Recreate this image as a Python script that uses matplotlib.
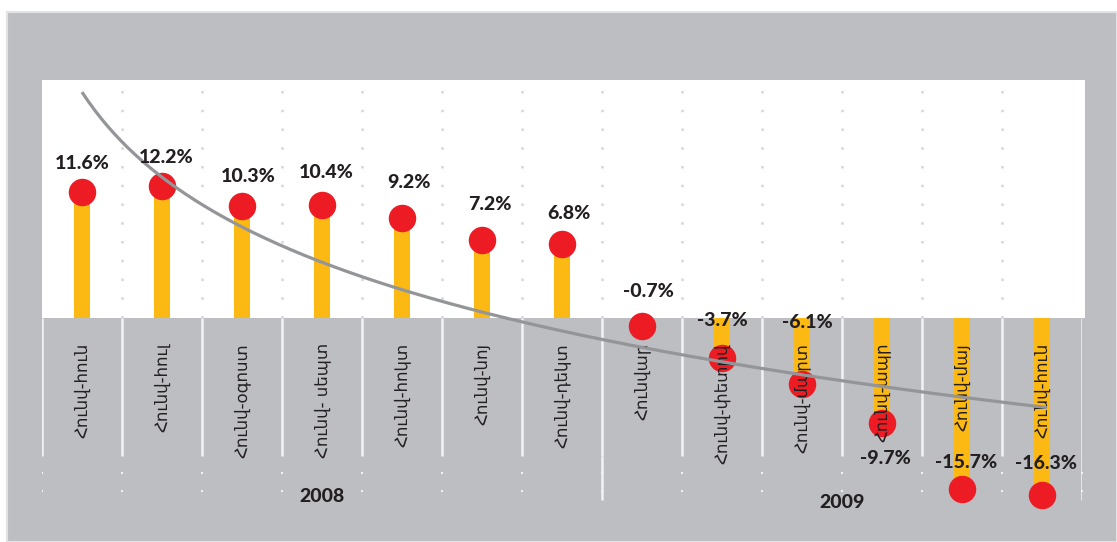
import numpy as np
import matplotlib
matplotlib.use("Agg")
import matplotlib.pyplot as plt
from matplotlib.patches import Rectangle

# ---- data ----
categories = ['Հունվ-հուն', 'Հունվ-հուլ', 'Հունվ-օգոստ', 'Հունվ- սեպտ', 'Հունվ-հոկտ',
              'Հունվ-նոյ', 'Հունվ-դեկտ', 'Հունվար', 'Հունվ-փետրվ', 'Հունվ-մարտ',
              'Հունվ-ապր', 'Հունվ-մայ', 'Հունվ-հուն']
values = [11.6, 12.2, 10.3, 10.4, 9.2, 7.2, 6.8, -0.7, -3.7, -6.1, -9.7, -15.7, -16.3]
years = ['2008', '2009']
year_counts = [7, 6]

# ---- layout / style ----
label_dx = [0, 4, 6, 4, 7, 8, 7, 6, 0, 5, 3, 4, 4]        # pixels
label_dy = [29, 28, 30, 33, 36, 35, 31, 34, 38, 62, -35, 26, 32]  # pixels (up)
GRAY = '#BDBEC2'
ORANGE = '#FDB913'
RED = '#ED1C24'
TREND = '#939598'
TEXT = '#231F20'
NUMFONT = ['Lato', 'DejaVu Sans']

W, H = 1117, 542
fig = plt.figure(figsize=(W / 100, H / 100), dpi=100)
fig.patch.set_facecolor('white')
fig.patches.append(Rectangle((7 / W, 0), 1 - 7 / W, (H - 12) / H,
                             transform=fig.transFigure, facecolor=GRAY,
                             edgecolor='#E2E3E5', lw=1.5, zorder=-10))

ax_left, ax_top, ax_right, ax_bot = 42, 80, 1082, 540
ax = fig.add_axes([ax_left / W, (H - ax_bot) / H, (ax_right - ax_left) / W,
                   (ax_bot - ax_top) / H])
ax.set_zorder(1)
ax.set_facecolor('none')
ppu = 10.86  # pixels per percentage unit
zero_px = 318
ymax = (zero_px - ax_top) / ppu
ymin = (zero_px - ax_bot) / ppu
n = len(values)
x = np.arange(1, n + 1)
ax.set_xlim(0.5, n + 0.5)
ax.set_ylim(ymin, ymax)
ax.axis('off')

def py(px):
    return (zero_px - px) / ppu

# white plot area
ax.axhspan(0, ymax, xmin=0, xmax=1.003, facecolor='white', zorder=0.5, clip_on=False)

bounds = np.arange(0.5, n + 1.0, 1.0)
# dotted lines in the white area
ax.vlines(bounds[1:-1], 0, py(84), colors='#D5D6D8', linewidth=1.8,
          linestyles=(0, (1, 6.5)), zorder=0.8)
# solid white lines in the gray area
ax.vlines(bounds, py(456), 0, colors='#F2F2F2', linewidth=1.8, zorder=0.8)
for yy in (py(473), py(491)):
    ax.scatter(bounds, [yy] * len(bounds), marker='s', s=4, color='#F2F2F2',
               linewidths=0, zorder=0.8)
sep_idx = [year_counts[0], n]
ax.vlines(bounds[sep_idx], py(456), py(500), colors='#F2F2F2', linewidth=1.8, zorder=0.8)

# bars and dots
ax.bar(x, values, width=0.2, color=ORANGE, zorder=2)
ax.scatter(x, values, s=392, color=RED, linewidths=0, zorder=3)

# trend line (logarithmic fit)
b, a = np.polyfit(np.log(x), values, 1)
xt = np.linspace(1, n + 0.06, 300)
ax.plot(xt, a + b * np.log(xt), color=TREND, lw=2.3, zorder=5, solid_capstyle='butt')

# value labels
for i, v in enumerate(values):
    ax.annotate(f'{v:.1f}%', (x[i], v), xytext=(label_dx[i], label_dy[i]),
                textcoords='offset pixels', ha='center', va='center',
                fontsize=14, fontweight='black', family=NUMFONT, color=TEXT, zorder=6)

# category labels
for i, c in enumerate(categories):
    ax.text(x[i], py(343), c, rotation=90, ha='center', va='top', fontsize=12,
            family=['DejaVu Sans'], color=TEXT, zorder=4)

# year labels
start = 0
year_y = [py(497), py(503)]
for k, (yr, cnt) in enumerate(zip(years, year_counts)):
    xc = (x[start] + x[start + cnt - 1]) / 2
    ax.text(xc, year_y[k], yr, ha='center', va='center', fontsize=14,
            fontweight='black', family=NUMFONT, color=TEXT, zorder=6)
    start += cnt

fig.savefig('out.png', dpi=100, facecolor=fig.get_facecolor())
